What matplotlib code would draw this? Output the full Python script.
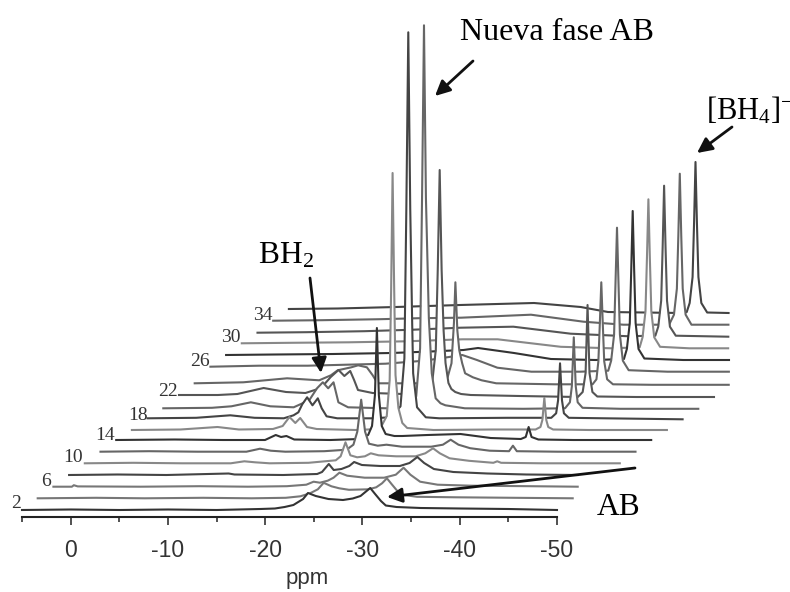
import matplotlib
matplotlib.use("Agg")
import matplotlib.pyplot as plt
from matplotlib.patches import FancyArrowPatch

plt.rcParams['mathtext.default'] = 'regular'
SERIF = 'Liberation Serif'
SANS = 'Liberation Sans'

# Each spectrum: chemical shift (ppm) and intensity
ppm_02 = [5, 0, -5, -10, -15, -19.5, -21, -22, -22.9, -23.9, -24.4, -25.2, -26.5, -28, -29, -29.8, -30.3, -30.8, -31.3, -31.9, -32.4, -33.5, -36, -40, -45, -50]
h_02 = [0, .5, 0, .5, 0, 1, 1.5, 3, 5, 11, 17, 14, 11, 10, 11.5, 14, 18, 22, 16, 9, 4.5, 3, 2, 1.5, 1, 0]
ppm_04 = [5, -1, -6, -12, -17, -20.5, -22, -23, -23.8, -24.4, -25.2, -26, -27, -29, -29.8, -30.4, -30.9, -31.4, -32, -32.5, -34, -38, -44, -50]
h_04 = [0, .5, 0, .5, 0, .5, 2, 5, 9, 15.5, 12, 10, 8.5, 9, 11, 15, 20, 14, 7, 3.5, 1.5, 1, .5, 0]
ppm_06 = [5, 3.1, 2.9, 2.5, -4, -10, -15, -19, -21, -21.75, -22.4, -23.2, -23.8, -24.4, -25.2, -27, -29, -30.2, -31, -31.7, -32.7, -34.5, -38, -44, -48.9]
h_06 = [0, 0, 1.5, .3, 0, .5, 0, .5, 2, 5, 4, 6, 9, 14, 11, 9, 9, 12, 19, 12, 5, 2, 1, .5, 0]
ppm_08 = [5, 0, -5, -11.4, -12, -17, -20.5, -21, -21.7, -22.2, -23, -23.8, -24.3, -25.1, -27, -29, -30, -30.8, -31.5, -32.5, -34.5, -38, -42, -47.3]
h_08 = [0, .5, 0, 1.5, .5, 0, 1, 3, 11, 5, 6, 9, 13, 10, 9, 9, 12, 18, 12, 6, 3, 1.5, .5, 0]
ppm_10 = [5, 0, -5, -10, -11.4, -12.5, -14, -18, -20.8, -21.3, -21.8, -22.3, -23, -23.8, -24.4, -25.2, -27, -29, -30, -30.8, -31.5, -32.5, -34.5, -37, -37.4, -37.8, -42, -50]
h_10 = [0, .5, 0, 0, 2, 1, 0, .5, 3, 7, 21, 8, 6, 7, 10, 8, 7, 7, 10, 15, 10, 5, 2.5, .5, 2, .5, 0, 0]
ppm_12 = [5, 0, -5, -10, -11.4, -12.5, -14, -18, -20.3, -21, -21.4, -21.8, -22.2, -22.6, -23.5, -24.4, -26, -29, -30.2, -31, -31.8, -33, -35, -37, -37.4, -37.8, -42, -50]
h_12 = [0, .5, 0, 0, 3, 1, 0, .5, 2, 7, 20, 52, 20, 8, 6, 7, 5, 5, 7, 12, 7, 3.5, 1, .5, 6, .5, 0, 0]
ppm_14 = [5, -1, -6, -10.3, -11.4, -11.95, -12.5, -13.3, -17, -20, -20.9, -21.3, -21.6, -21.8, -22, -22.3, -22.7, -23.6, -24.4, -27, -30.4, -33.5, -36.6, -37.1, -37.4, -37.7, -38.4, -42, -50]
h_14 = [0, .5, 0, 0, 5, 3, 4, .5, 0, 1, 5, 14, 45, 112, 45, 14, 6, 4, 4, 5, 6, 2, 1, 3, 13, 3, .5, 0, 0]
ppm_16 = [5, 0, -3.8, -6, -9.5, -10.5, -11.2, -11.8, -12.3, -13, -14, -18, -20.5, -21.2, -21.5, -21.65, -21.8, -21.95, -22.1, -22.4, -22.8, -23.3, -26, -32, -36.5, -37, -37.2, -37.4, -37.6, -37.8, -38.3, -42, -50]
h_16 = [0, .5, 3, .5, 1, 4, 13, 7, 12, 3, 1, 0, 1, 14, 50, 140, 257, 150, 55, 22, 7, 2, 0, .5, .5, 3, 10, 32, 10, 3, .5, 0, 0]
ppm_18 = [5, 0, -3.5, -6, -9, -10, -10.5, -10.9, -11.4, -11.95, -12.5, -12.9, -13.4, -14.5, -18, -20, -21, -21.4, -21.6, -21.8, -22, -22.2, -22.3, -22.7, -23.6, -25, -32, -36.5, -37, -37.2, -37.4, -37.6, -37.8, -38.3, -42, -50]
h_18 = [0, .5, 3, .5, 0, 3, 6, 14, 21, 13, 20, 10, 2, 0, 0, 1, 12, 60, 210, 386, 210, 95, 45, 11, 1, 0, .5, .5, 5, 18, 55, 18, 5, .5, 0, -1]
ppm_20 = [5, 0, -2, -4, -6, -8.4, -10, -10.8, -11.4, -11.95, -12.5, -13, -14, -18, -20, -21, -21.4, -21.6, -21.8, -22, -22.3, -22.6, -23, -23.5, -24, -26, -32, -36.3, -36.8, -37, -37.2, -37.4, -37.6, -38.1, -42, -50]
h_20 = [0, .5, 2, 6, 2, 1, 8, 20, 26, 20, 26, 6, 1, 0, 1, 12, 60, 210, 383, 210, 90, 35, 10, 5, 3, 0, -.5, 0, 6, 22, 71, 22, 6, .5, -.5, -.5]
ppm_22 = [5, 1, -1, -3.7, -6, -8, -9.6, -10.6, -11.4, -12, -12.6, -13, -13.4, -14.9, -18, -20, -21, -21.4, -21.6, -21.8, -22, -22.2, -22.4, -22.7, -23, -23.4, -24, -25, -30, -36, -36.5, -36.8, -37, -37.2, -37.5, -38, -42, -50]
h_22 = [0, 0, 1, 7, 3, 2, 7, 18, 25, 19, 24, 15, 5, 2, 1, 2, 10, 45, 125, 225, 125, 65, 32, 12, 6, 3, 1, 0, -1, -2, 3, 22, 90, 22, 3, -1.5, -2, -2]
ppm_24 = [5, 0, -4.5, -7.8, -9, -9.7, -11.1, -11.8, -12.7, -13.3, -13.8, -18, -20, -21, -21.4, -21.65, -21.8, -22, -22.2, -22.5, -22.8, -23.2, -23.6, -24.5, -26, -32, -35.9, -36.3, -36.5, -36.65, -36.8, -36.95, -37.1, -37.4, -38, -42, -49.9]
h_24 = [0, 1, 5, 3, 8, 13, 16, 18, 16, 8, 0, 0, 1, 6, 20, 60, 101, 53, 33, 20, 10, 8, 6, 3, 0, -1, -1, 4, 22, 60, 101, 60, 22, 4, -1, -1.5, -1.5]
ppm_26 = [5, 0, -5, -9, -13, -17, -20.9, -22.4, -24.5, -28, -33, -35.9, -36.2, -36.5, -36.65, -36.8, -36.95, -37.1, -37.4, -38, -42, -48.3]
h_26 = [0, 1, 1, 2, 3, 6, 11.7, 6.7, -1, -5, -5, -4, 6, 32, 85, 139, 85, 32, 6, -3.5, -5, -5]
ppm_28 = [5, 0, -6, -12, -16, -19.4, -20.9, -24.6, -28.4, -33, -35.9, -36.2, -36.5, -36.65, -36.8, -36.95, -37.1, -37.4, -38, -42, -46.7]
h_28 = [0, .5, 1, 2, 3.5, 5, 7, 2, -4, -5, -4, 6, 32, 85, 144, 85, 32, 6, -3.5, -5, -5]
ppm_30 = [5, 0, -6, -12, -17.7, -21.3, -27.8, -33, -35.9, -36.2, -36.5, -36.65, -36.8, -36.95, -37.1, -37.4, -38, -41, -45]
h_30 = [0, .5, 1, 2, 4, 4, -3.5, -5, -4, 6, 32, 85, 144, 85, 32, 6, -3.5, -5, -5]
ppm_32 = [5, 0, -6, -11, -15.9, -21.3, -27.2, -33, -35.9, -36.2, -36.5, -36.65, -36.8, -36.95, -37.1, -37.4, -38, -43.4]
h_32 = [0, .5, 1.5, 3, 5, 6, -1, -3.5, -3, 6, 32, 85, 147, 85, 32, 6, -3, -4]
ppm_34 = [5, 0, -6, -10, -14.3, -21.5, -26.9, -31, -35.7, -36.2, -36.5, -36.65, -36.8, -36.95, -37.1, -37.4, -38, -41.8]
h_34 = [0, .5, 1.5, 2.5, 3, 6, -1, -4, -4, 6, 32, 85, 147, 85, 32, 6, -4, -4]
ppm_36 = [5, 0, -6, -12.6, -20.2, -25, -27.8, -35.3, -35.9, -36.2, -36.5, -36.65, -36.8, -36.95, -37.1, -37.4, -38, -40.2]
h_36 = [0, .5, 2, 4, 6, 2, -3, -4, -3, 6, 32, 85, 147, 85, 32, 6, -3.5, -4]

ppm_all = [ppm_02, ppm_04, ppm_06, ppm_08, ppm_10, ppm_12, ppm_14, ppm_16, ppm_18,
           ppm_20, ppm_22, ppm_24, ppm_26, ppm_28, ppm_30, ppm_32, ppm_34, ppm_36]
h_all = [h_02, h_04, h_06, h_08, h_10, h_12, h_14, h_16, h_18,
         h_20, h_22, h_24, h_26, h_28, h_30, h_32, h_34, h_36]
baseline = [7, 18.7, 30.3, 42, 53.7, 65.3, 77, 87, 98.7, 108.7, 122, 133.7, 150.3, 162, 173.7, 184.3, 196.3, 208]
greys = ['#333333', '#777777', '#777777', '#444444', '#888888', '#666666', '#333333', '#888888', '#444444',
         '#666666', '#555555', '#666666', '#666666', '#333333', '#888888', '#555555', '#666666', '#444444']
trace_labels = ['2', '6', '10', '14', '18', '22', '26', '30', '34']
label_x = [16, 46, 73, 105, 138, 168, 200, 231, 263]
label_y = [504, 482, 458, 436, 415, 391, 362, 338, 316]
major_ticks = [0, -10, -20, -30, -40, -50]
major_labels = ['0', '-10', '-20', '-30', '-40', '-50']
minor_ticks = [5, -5, -15, -25, -35, -45]

W, H = 790, 592
skew = 1.614  # ppm shift per trace in the stacked view

fig = plt.figure(figsize=(W / 100, H / 100), dpi=100, facecolor='white')
ax = fig.add_axes([22 / W, 1 - 517 / H, 535 / W, 517 / H])
ax.set_xlim(5, -50)
ax.set_ylim(0, 517)
ax.patch.set_alpha(0)
for s in ['top', 'left', 'right']:
    ax.spines[s].set_visible(False)
ax.spines['bottom'].set_linewidth(1.5)
ax.spines['bottom'].set_color('#222222')
ax.yaxis.set_visible(False)

for k in range(len(ppm_all) - 1, -1, -1):
    x = [p - k * skew for p in ppm_all[k]]
    y = [baseline[k] + v for v in h_all[k]]
    z = 2 * (len(ppm_all) - k)
    ax.fill_between(x, y, baseline[k], color='white', lw=0, zorder=z, clip_on=False)
    ax.plot(x, y, color=greys[k], lw=1.5, zorder=z + 1, clip_on=False, solid_joinstyle='round')

ax.set_xticks(major_ticks)
ax.set_xticklabels(major_labels, fontfamily=SANS, fontsize=16.5, color='#333333')
ax.set_xticks(minor_ticks, minor=True)
ax.tick_params(axis='x', which='major', length=6, width=1.2, color='#333333', pad=10)
ax.tick_params(axis='x', which='minor', length=3.5, width=1.2, color='#333333')
ax.set_xlabel('ppm', fontfamily=SANS, fontsize=16, color='#333333')
ax.xaxis.set_label_coords((307 - 22) / 535, -(568 - 517) / 517)


def fx(px):
    return px / W


def fy(py):
    return 1 - py / H


for t, px, py in zip(trace_labels, label_x, label_y):
    fig.text(fx(px), fy(py), t, family=SERIF, fontsize=14, color='#333333', ha='center', va='center', zorder=60)

fig.text(fx(460), fy(40), 'Nueva fase AB', family=SERIF, fontsize=23, color='black', ha='left', va='baseline')
fig.text(fx(706), fy(119), r'[BH$_4$]$^{-}$', family=SERIF, fontsize=22, color='black', ha='left', va='baseline')
fig.text(fx(258), fy(263), r'BH$_2$', family=SERIF, fontsize=22.7, color='black', ha='left', va='baseline')
fig.text(fx(597), fy(515), 'AB', family=SERIF, fontsize=22.7, color='black', ha='left', va='baseline')

arrows = [((473, 61), (435, 96)), ((732, 127), (697, 153)), ((310, 278), (321, 373)), ((635, 468), (387, 497))]
for (tx, ty), (hx, hy) in arrows:
    fig.add_artist(FancyArrowPatch((fx(tx), fy(ty)), (fx(hx), fy(hy)), transform=fig.transFigure,
                                   arrowstyle='-|>,head_length=0.45,head_width=0.22', mutation_scale=20,
                                   lw=2, color='#111111', shrinkA=0, shrinkB=0, zorder=70))

fig.savefig('out.png', dpi=100, facecolor='white')
